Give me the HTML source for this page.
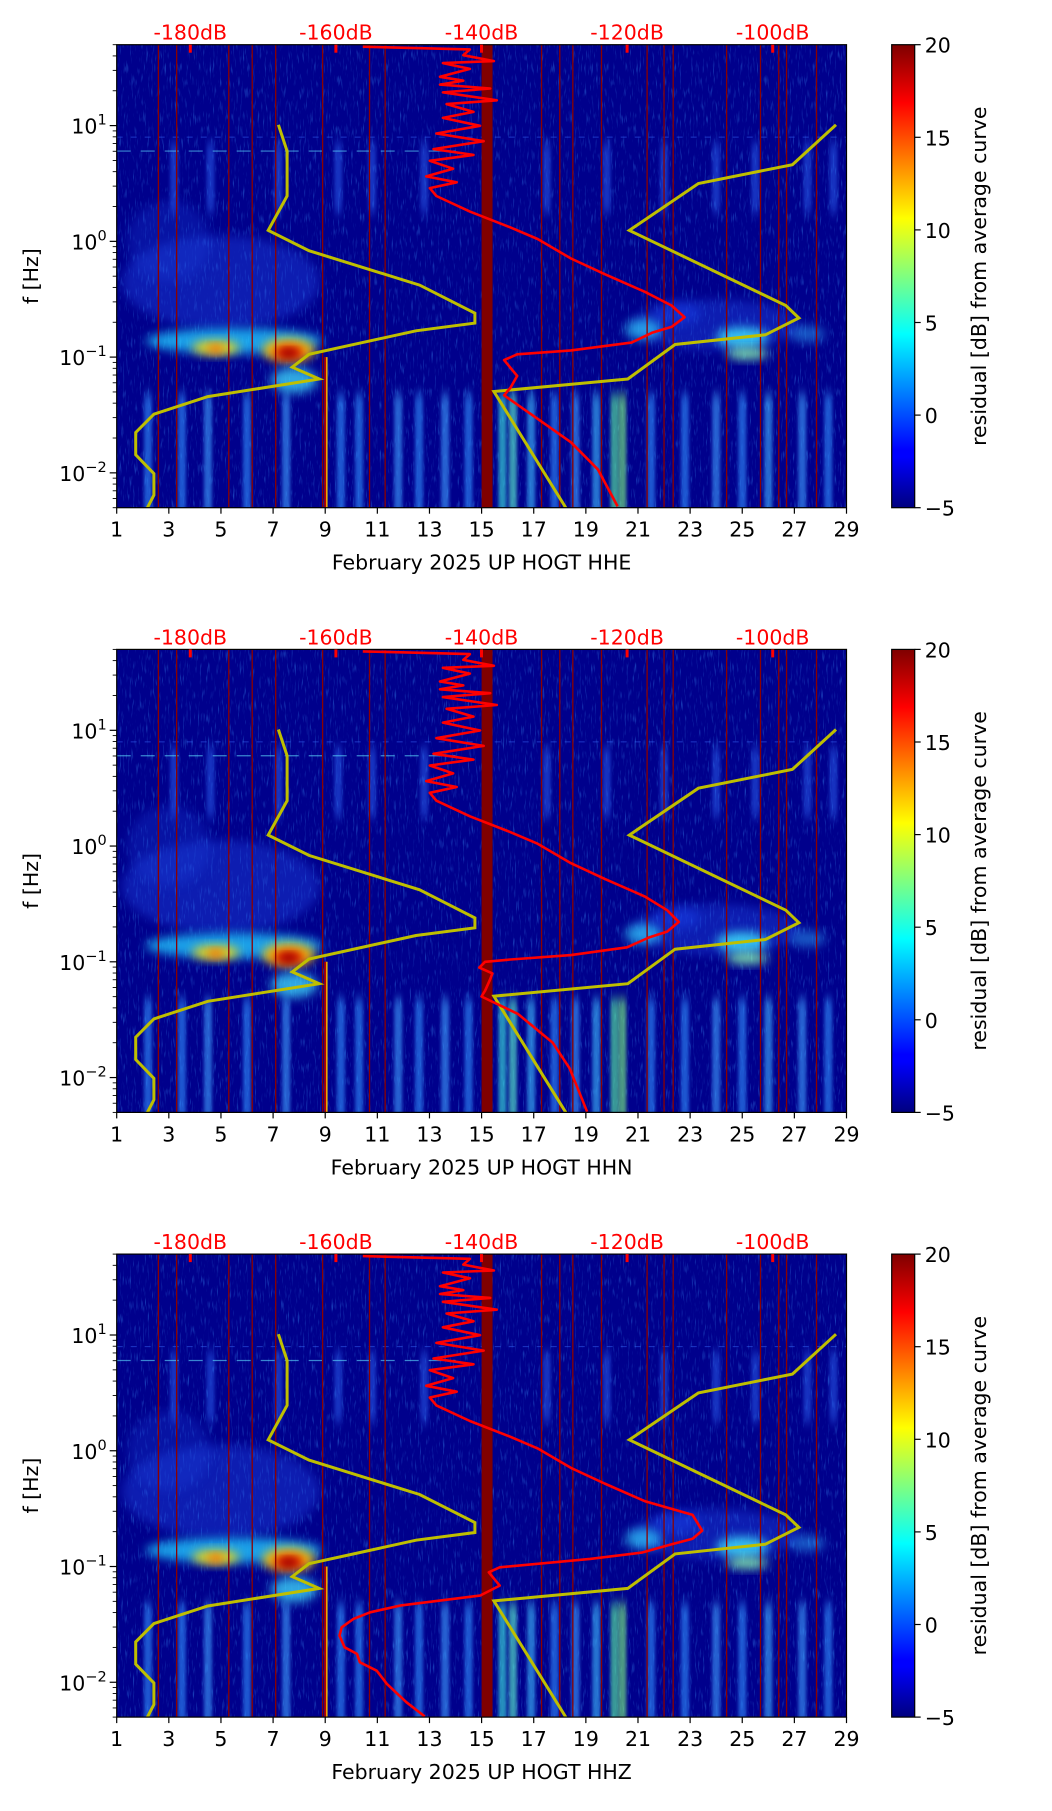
<!DOCTYPE html>
<html><head><meta charset="utf-8">
<style>
html,body{margin:0;padding:0;background:#fff;}
svg text{font-family:"DejaVu Sans","Liberation Sans",sans-serif;}
</style></head>
<body>
<svg id="fig" xmlns="http://www.w3.org/2000/svg" width="1052" height="1806" viewBox="0 0 1052 1806">
<defs>
  <filter id="blur" x="-50%" y="-50%" width="200%" height="200%"><feGaussianBlur stdDeviation="5"/></filter>
  <filter id="blur2" x="-50%" y="-50%" width="200%" height="200%"><feGaussianBlur stdDeviation="1.6 6"/></filter>
  <filter id="noise" x="0" y="0" width="100%" height="100%">
    <feTurbulence type="fractalNoise" baseFrequency="0.6 0.08" numOctaves="2" seed="3"/>
    <feColorMatrix type="matrix" values="0 0 0 0 0.05  0 0 0 0 0.35  0 0 0 0 1  0 0 0 2.6 -1.5"/>
  </filter>
  <linearGradient id="jet" x1="0" y1="1" x2="0" y2="0">
    <stop offset="0" stop-color="#00007f"/><stop offset="0.11" stop-color="#0000ff"/>
    <stop offset="0.125" stop-color="#0000ff"/><stop offset="0.375" stop-color="#00ffff"/>
    <stop offset="0.625" stop-color="#ffff00"/><stop offset="0.875" stop-color="#ff0000"/>
    <stop offset="1" stop-color="#7f0000"/>
  </linearGradient>
</defs>
</svg>
<script>
// ---------- data ----------
const dayTicks = [1,3,5,7,9,11,13,15,17,19,21,23,25,27,29];
const dbTicks = [-180,-160,-140,-120,-100];
const cbTicks = [-5,0,5,10,15,20];
const yDecades = [-2,-1,0,1];
const channels = ["HHE","HHN","HHZ"];
// dark red (data gap) vertical lines, in days
const gapDays = [2.6,3.3,5.3,6.2,7.1,8.9,10.7,11.3,17.3,18.0,18.5,19.6,21.35,22.0,22.35,24.4,25.7,26.4,26.7,27.85];
const gapBand = [15.0,15.42];
// NLNM (yellow, left): dB values and log10 frequency
const nlnmDb = [-167.9,-166.7,-166.7,-169.3,-163.7,-148.5,-140.9,-140.9,-149.0,-163.7,-166.0,-162.3,-177.6,-185.0,-187.5,-187.5,-185.0,-185.0,-185.9];
const nlnmLogF = [1.007,0.780,0.392,0.095,-0.081,-0.378,-0.621,-0.706,-0.773,-0.976,-1.087,-1.189,-1.341,-1.493,-1.651,-1.844,-2.006,-2.192,-2.303];
// NHNM (yellow, right)
const nhnmDb = [-91.3,-97.3,-110.2,-119.7,-98.2,-96.4,-101.0,-113.4,-119.9,-138.3,-128.4];
const nhnmLogF = [1.007,0.662,0.500,0.095,-0.554,-0.662,-0.807,-0.891,-1.189,-1.297,-2.303];
// mean PSD (red) upper part shared
const redUpDb = [-156.3,-141.6,-142.5,-138.3,-145.3,-141.6,-145.7,-142.5,-145.7,-138.8,-145.3,-137.9,-144.8,-141.1,-145.3,-140.2,-146.2,-139.7,-146.6,-141.1,-147.1,-143.9,-147.6,-143.4,-147.1,-146.2,-141.6,-136.1,-132.3,-127.7,-123.1,-117.6];
const redUpLogF = [1.682,1.658,1.608,1.557,1.540,1.490,1.422,1.388,1.354,1.321,1.287,1.219,1.186,1.118,1.067,0.998,0.932,0.865,0.797,0.747,0.696,0.628,0.561,0.510,0.460,0.392,0.257,0.122,0.020,-0.148,-0.283,-0.435];
// lower parts per channel
const redLoDbE = [-113.9,-112.1,-113.9,-116.6,-119.4,-127.7,-135.1,-136.9,-135.1,-136.0,-136.9,-132.3,-127.7,-124.0,-121.3];
const redLoLogFE = [-0.554,-0.655,-0.739,-0.790,-0.875,-0.942,-0.976,-1.026,-1.162,-1.263,-1.330,-1.533,-1.736,-1.972,-2.290];
const redLoDbN = [-114.5,-112.9,-114.5,-117.0,-120.0,-127.7,-136.0,-139.5,-140.3,-138.5,-138.8,-139.5,-140.0,-135.0,-130.2,-127.9,-125.5];
const redLoLogFN = [-0.554,-0.655,-0.739,-0.790,-0.875,-0.942,-0.980,-1.000,-1.050,-1.100,-1.150,-1.250,-1.300,-1.450,-1.700,-1.920,-2.295];
const redLoDbZ = [-111.0,-109.7,-111.0,-114.0,-118.0,-125.1,-137.5,-139.0,-137.5,-140.2,-151.2,-155.3,-157.6,-159.2,-159.5,-158.8,-157.1,-156.7,-154.4,-153.0,-150.3,-147.8];
const redLoLogFZ = [-0.554,-0.690,-0.760,-0.810,-0.880,-0.934,-1.007,-1.050,-1.165,-1.251,-1.338,-1.396,-1.453,-1.525,-1.597,-1.698,-1.755,-1.828,-1.900,-2.014,-2.173,-2.295];
const redLoDb = [redLoDbE, redLoDbN, redLoDbZ];
const redLoLogF = [redLoLogFE, redLoLogFN, redLoLogFZ];
// spectrogram blobs: day, logf, rx(days), ry(decades), color, opacity
const blobDay =  [5.0, 3.0, 5.5, 4.8, 4.8, 7.6, 7.6, 7.6, 7.8, 24.0, 21.2, 25.0, 25.2, 22.5, 27.5];
const blobLogF = [-0.35,0.0,-0.86,-0.92,-0.93,-0.94,-0.96,-0.97,-1.2,-0.72,-0.76,-0.83,-0.97,-0.62,-0.80];
const blobRx =   [3.8, 1.6, 3.4, 0.9, 0.3, 1.0, 0.6, 0.3, 0.9, 3.2, 0.7, 1.0, 0.8, 0.9, 0.7];
const blobRy =   [0.40,0.35,0.11,0.06,0.035,0.10,0.06,0.035,0.11,0.22,0.09,0.09,0.05,0.10,0.07];
const blobCol =  ["#2a5cff","#1a44e0","#20c8ff","#ffe000","#ff5000","#ffd000","#e00000","#800000","#40e0ff","#2a5cff","#30d0ff","#40e8ff","#90ffb0","#1a50ff","#30b0ff"];
const blobOp =   [0.32,0.28,0.8,0.9,0.9,0.95,1,1,0.75,0.32,0.7,0.8,0.85,0.35,0.5];
// low-frequency vertical streaks: day, color
const streakDay = [2.2,3.5,4.5,6.0,7.5,9.6,10.3,11.8,12.6,13.6,14.5,15.8,16.2,16.9,17.8,18.6,19.4,20.1,20.4,21.5,22.8,24.0,25.0,26.0,27.3,28.3];
const streakCol = ["#3090ff","#3090ff","#40a0ff","#3090ff","#40a0ff","#3090ff","#3090ff","#40a0ff","#3090ff","#40a0ff","#3090ff","#40f0e0","#60ffd0","#40c0ff","#3090ff","#40a0ff","#40c0ff","#60ffa0","#80ff80","#3090ff","#3090ff","#40a0ff","#3090ff","#40b0ff","#40a0ff","#3090ff"];
// mid/high-frequency faint streaks
const hiDay = [3.2,4.6,7.2,9.5,10.8,12.8,17.5,19.8,22.0,24.0,25.5,27.5,28.5];

// ---------- geometry ----------
const X0 = 116.7, X1 = 846.5, H = 463, TOPS = [44.7, 649.4, 1254.1];
const LMAX = Math.log10(50), LMIN = Math.log10(0.005);
const CB0 = 891.7, CB1 = 914.7;
const FS = 20.5;
const svg = document.getElementById('fig');
const NS = 'http://www.w3.org/2000/svg';
function el(tag, attrs, parent){ const e=document.createElementNS(NS,tag); for(const k in attrs) e.setAttribute(k,attrs[k]); (parent||svg).appendChild(e); return e; }
const xDay = d => X0 + (d-1)/28*(X1-X0);
const xDb = db => 190.3 + (db+180)*7.28;
const yLog = (top,l) => top + (LMAX-l)/(LMAX-LMIN)*H;

channels.forEach((ch, p) => {
  const T = TOPS[p], B = T + H;
  const g = el('g', {});
  
  
  el('clipPath', {id:'clip'+p}, g);
  el('rect', {x:X0,y:T,width:X1-X0,height:H}, g.lastChild);
  const plot = el('g', {'clip-path':'url(#clip'+p+')'}, g);
  
  
  el('rect', {x:X0,y:T,width:X1-X0,height:H,fill:'#00008c'}, plot);
  el('rect', {x:X0,y:T,width:X1-X0,height:H,filter:'url(#noise)',opacity:0.5}, plot);
  hiDay.forEach(d => {
    const r = el('rect', {x:xDay(d)-4,y:yLog(T,0.85),width:8,height:yLog(T,0.25)-yLog(T,0.85),fill:'#3070ff',opacity:0.45,filter:'url(#blur2)'}, plot);
    
    
  });
  streakDay.forEach((d,i) => {
    const r = el('rect', {x:xDay(d)-4,y:yLog(T,-1.32),width:8,height:B-yLog(T,-1.32)+10,fill:streakCol[i],opacity:0.6,filter:'url(#blur2)'}, plot);
    
    
  });
  blobDay.forEach((d,i) => {
    const e = el('ellipse', {cx:xDay(d), cy:yLog(T,blobLogF[i]), rx:blobRx[i]/28*(X1-X0), ry:blobRy[i]/(LMAX-LMIN)*H, fill:blobCol[i], opacity:blobOp[i], filter:'url(#blur)'}, plot);
    
    
  });
  el('line', {x1:X0,x2:xDay(14),y1:yLog(T,0.78),y2:yLog(T,0.78),stroke:'#60e0ff','stroke-width':1.2,'stroke-dasharray':'14 10',opacity:0.6}, plot);
  el('line', {x1:X0,x2:X1,y1:yLog(T,0.9),y2:yLog(T,0.9),stroke:'#3a6cff','stroke-width':1,'stroke-dasharray':'6 8',opacity:0.5}, plot);
  el('line', {x1:xDay(9.05),x2:xDay(9.05),y1:yLog(T,-1.0),y2:B,stroke:'#ffd000','stroke-width':2}, plot);
  el('line', {x1:xDay(9.0),x2:xDay(9.0),y1:yLog(T,-1.0),y2:B,stroke:'#b00000','stroke-width':2}, plot);
  gapDays.forEach(d => {
    const l = el('line', {x1:xDay(d),x2:xDay(d),y1:T,y2:B,stroke:'#8b0000','stroke-width':1.3}, plot);
    
    
  });
  const band = el('rect', {x:xDay(gapBand[0]),y:T,width:xDay(gapBand[1])-xDay(gapBand[0]),height:H,fill:'#800000'}, plot);
  
  
  const pl = (dbs, lfs) => dbs.map((v,i)=>xDb(v).toFixed(1)+','+yLog(T,lfs[i]).toFixed(1)).join(' ');
  const n1 = el('polyline', {points:pl(nlnmDb,nlnmLogF),fill:'none',stroke:'#bfbf00','stroke-width':3}, plot);
  
  
  const n2 = el('polyline', {points:pl(nhnmDb,nhnmLogF),fill:'none',stroke:'#bfbf00','stroke-width':3}, plot);
  
  
  const rd = el('polyline', {points:pl(redUpDb.concat(redLoDb[p]), redUpLogF.concat(redLoLogF[p])),fill:'none',stroke:'#ff0000','stroke-width':2.6,'stroke-linejoin':'round'}, plot);
  
  
  el('rect', {x:X0,y:T,width:X1-X0,height:H,fill:'none',stroke:'#000','stroke-width':1.2}, g);
  dayTicks.forEach(d => {
    el('line', {x1:xDay(d),x2:xDay(d),y1:B,y2:B+6,stroke:'#000','stroke-width':1.2}, g);
    const t = el('text', {x:xDay(d),y:B+29,'font-size':FS,'text-anchor':'middle'}, g);
    t.textContent = d;
    
    
  });
  const xl = el('text', {x:(X0+X1)/2,y:B+62,'font-size':FS,'text-anchor':'middle','xml:space':'preserve'}, g);
  xl.textContent = 'February 2025 UP HOGT  ' + ch;
  
  
  dbTicks.forEach(v => {
    el('line', {x1:xDb(v),x2:xDb(v),y1:T,y2:T+8,stroke:'#ff0000','stroke-width':3}, g);
    const t = el('text', {x:xDb(v),y:T-5,'font-size':FS,'text-anchor':'middle',fill:'#ff0000'}, g);
    t.textContent = v + 'dB';
    
    
  });
  yDecades.forEach(dec => {
    const y = yLog(T,dec);
    el('line', {x1:X0-7,x2:X0,y1:y,y2:y,stroke:'#000','stroke-width':1.2}, g);
    const t = el('text', {x:X0-10,y:y+8,'font-size':FS,'text-anchor':'end'}, g);
    
    
    const a = el('tspan', {}, t); a.textContent = '10';
    const s = el('tspan', {dy:-9,'font-size':14.5}, t); s.textContent = dec < 0 ? '\u2212' + (-dec) : String(dec);
  });
  for (let dec=-3; dec<=1; dec++) for (let m=2; m<=9; m++) {
    const l = dec + Math.log10(m);
    if (l < LMIN || l > LMAX) continue;
    const y = yLog(T,l);
    el('line', {x1:X0-4,x2:X0,y1:y,y2:y,stroke:'#000','stroke-width':0.9}, g);
  }
  const yl = el('text', {x:0,y:0,'font-size':FS,'text-anchor':'middle',transform:'translate(38,'+(T+H/2)+') rotate(-90)'}, g);
  yl.textContent = 'f [Hz]';
  
  
  const cb = el('rect', {x:CB0,y:T,width:CB1-CB0,height:H,fill:'url(#jet)',stroke:'#000','stroke-width':1.2}, g);
  
  
  cbTicks.forEach(v => {
    const y = B - (v+5)/25*H;
    el('line', {x1:CB1,x2:CB1+6,y1:y,y2:y,stroke:'#000','stroke-width':1.2}, g);
    const t = el('text', {x:CB1+10,y:y+8,'font-size':FS}, g);
    t.textContent = v < 0 ? '\u2212' + (-v) : String(v);
    
    
  });
  const cl = el('text', {x:0,y:0,'font-size':FS,'text-anchor':'middle',transform:'translate(986,'+(T+H/2)+') rotate(-90)'}, g);
  cl.textContent = 'residual [dB] from average curve';
  
  
});
</script>
</body></html>
